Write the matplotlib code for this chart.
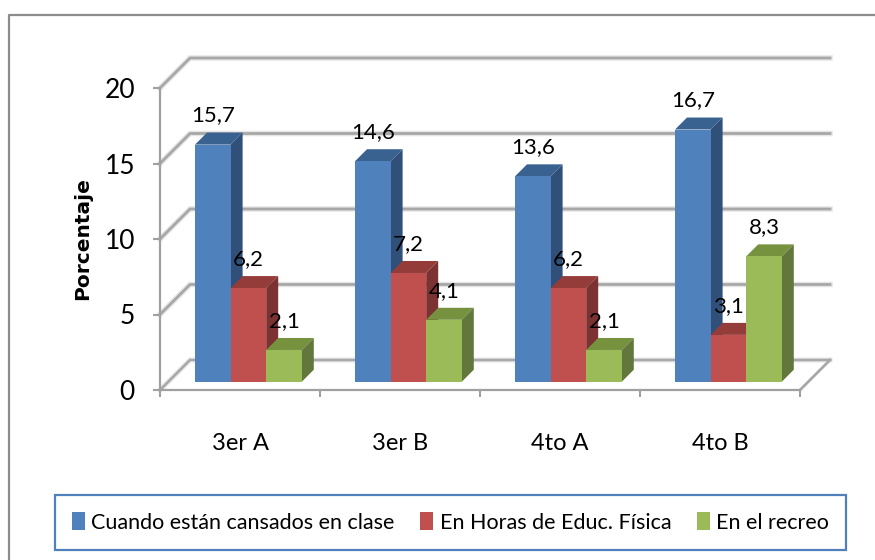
import numpy as np
import matplotlib
matplotlib.use('Agg')
import matplotlib.pyplot as plt
from matplotlib.lines import Line2D

grupos = ['3er A', '3er B', '4to A', '4to B']
cansados = [15.7, 14.6, 13.6, 16.7]
educ_fisica = [6.2, 7.2, 6.2, 3.1]
recreo = [2.1, 4.1, 2.1, 8.3]
etiquetas_y = [0, 5, 10, 15, 20]
leyenda = ['Cuando están cansados en clase', 'En Horas de Educ. Física', 'En el recreo']

series = [cansados, educ_fisica, recreo]
colores = ['#4f81bd', '#c0504d', '#9bbb59']
tapas = ['#3a6291', '#943c3a', '#76923f']
lados = ['#30507a', '#7b3230', '#61783a']

fuente = ['Lato', 'DejaVu Sans']

W, H = 875, 560
fig = plt.figure(figsize=(W / 100, H / 100), dpi=100)
ax = fig.add_axes([160 / W, (H - 390) / H, 640 / W, 302 / H])
ax.set_xlim(0, 4)
ax.set_ylim(0, 20)
ax.patch.set_visible(False)

# conversion px -> data for the fake 3d depth
px_x = 4 / 640
px_y = 20 / 302
fondo_x = 30 * px_x
fondo_y = 30 * px_y

# walls
for v in etiquetas_y:
    for lw, col in [(4, '#e6e6e6'), (2, '#a8a8a8')]:
        ax.plot([0, fondo_x, 4 + fondo_x], [v, v + fondo_y, v + fondo_y],
                color=col, lw=lw if v else lw * 0.9, clip_on=False, zorder=1,
                solid_joinstyle='miter')
ax.plot([4, 4 + fondo_x], [0, fondo_y], color='#a8a8a8', lw=2, clip_on=False, zorder=1)

# bars, they stand a bit above the front edge of the floor
ancho = 35.6 / 160
base = 0.55
prof_x = 12 * px_x
prof_y = 12 * px_y
inicio = 35 / 160
handles = []
for g in range(len(grupos)):
    for s, valores in enumerate(series):
        x0 = g + inicio + s * ancho
        x1 = x0 + ancho
        v = valores[g] + base
        z = 3 + g * 3 + s
        ax.fill([x0, x1, x1 + prof_x, x0 + prof_x], [v, v, v + prof_y, v + prof_y],
                color=tapas[s], lw=0, clip_on=False, zorder=z)
        ax.fill([x1, x1 + prof_x, x1 + prof_x, x1], [base, base + prof_y, v + prof_y, v],
                color=lados[s], lw=0, clip_on=False, zorder=z)
        b = ax.bar(x0, valores[g], ancho, bottom=base, align='edge', color=colores[s],
                   lw=0, clip_on=False, zorder=z)
        if g == 0:
            handles.append(b[0])

# value labels on top of everything
for g in range(len(grupos)):
    for s, valores in enumerate(series):
        x = g + inicio + (s + 0.5) * ancho
        ax.annotate(str(valores[g]).replace('.', ','), (x, valores[g] + base), xytext=(0, 21),
                    textcoords='offset points', ha='center', va='center', fontsize=16,
                    family=fuente, color='black', zorder=30, annotation_clip=False)

for lado in ['top', 'right']:
    ax.spines[lado].set_visible(False)
for lado in ['left', 'bottom']:
    ax.spines[lado].set_color('#a0a0a0')
    ax.spines[lado].set_linewidth(1.6)
    ax.spines[lado].set_zorder(2)

ax.set_yticks(etiquetas_y)
ax.set_yticklabels([str(v) for v in etiquetas_y], fontsize=19, family=fuente)
ax.tick_params(axis='y', length=5, width=1.5, color='#a0a0a0', pad=13)
ax.set_xticks(range(5))
ax.set_xticklabels([])
ax.tick_params(axis='x', which='major', length=5, width=1.5, color='#a0a0a0')
ax.set_xticks(np.arange(len(grupos)) + 0.5, minor=True)
ax.set_xticklabels(grupos, minor=True, fontsize=17, family=fuente)
ax.tick_params(axis='x', which='minor', length=0, pad=31)

ax.set_ylabel('Porcentaje', fontsize=14.5, fontweight='bold', family='DejaVu Sans')
ax.yaxis.set_label_coords((92 - 160) / 640, 0.5)

leg = fig.legend(handles, leyenda, ncol=3, loc='center', bbox_to_anchor=(450.5 / W, (H - 522.5) / H),
                 prop={'family': fuente, 'size': 15.5}, frameon=True, fancybox=False,
                 edgecolor='#4f81bd', framealpha=1, handlelength=0.6, handleheight=0.9,
                 handletextpad=0.3, columnspacing=1.18, borderpad=0.8, borderaxespad=0)
leg.get_frame().set_linewidth(1.6)

# chart border
fig.add_artist(Line2D([9 / W, 9 / W, 1], [0, (H - 15) / H, (H - 15) / H], color='#8c8c8c', lw=1.6))

fig.savefig('out.png', dpi=100)
